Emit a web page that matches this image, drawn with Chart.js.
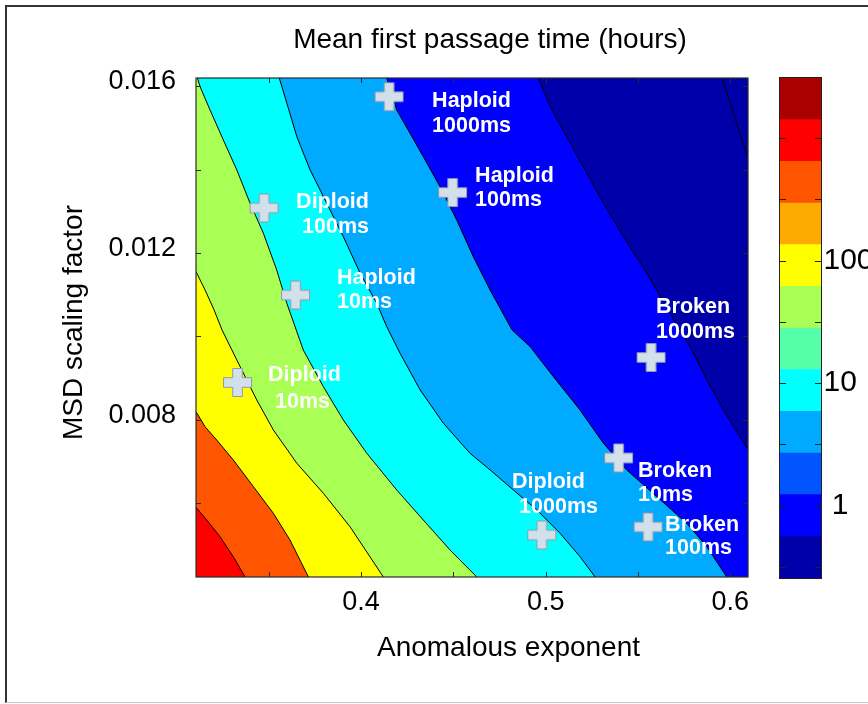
<!DOCTYPE html>
<html>
<head>
<meta charset="UTF-8">
<title>Mean first passage time (hours)</title>
<script src="https://cdn.jsdelivr.net/npm/chart.js@4.4.1/dist/chart.umd.min.js"></script>
<style>
    html, body { margin: 0; padding: 0; width: 868px; height: 704px; overflow: hidden; background: #fff; }
    #frame { position: absolute; left: 5px; top: 5px; width: 900px; height: 695px;
             border-top: 2px solid #333; border-left: 2px solid #333; border-bottom: 1px solid #ccc; }
    #main { position: absolute; left: 0; top: 0; }
    #cbar { position: absolute; left: 760px; top: 0; }
</style>
</head>
<body>
<div id="frame"></div>
<canvas id="main" width="868" height="704"></canvas>
<canvas id="cbar" width="140" height="704"></canvas>

<script>
    // axes: anomalous exponent (x) vs MSD scaling factor (y)
    var xMin = 0.3106, xMax = 0.6096;
    var yMin = 0.00422, yMax = 0.0162;
    var xTicks = [0.35, 0.4, 0.45, 0.5, 0.55, 0.6];
    var xTickLabels = ['', '0.4', '', '0.5', '', '0.6'];
    var yTicks = [0.006, 0.008, 0.010, 0.012, 0.014, 0.016];
    var yTickLabels = ['', '0.008', '', '0.012', '', '0.016'];

    // contour lines of the passage time, slowest (bottom left) first
    var contour1 = [[0.3106, 0.005894], [0.3164, 0.005589], [0.3236, 0.005188], [0.3308, 0.004708], [0.3372, 0.00422]];
    var contour2 = [[0.3106, 0.00819], [0.3155, 0.007829], [0.3218, 0.00751], [0.3308, 0.00703], [0.3417, 0.006389],
                    [0.3525, 0.00575], [0.3615, 0.005109], [0.3715, 0.00422]];
    var contour3 = [[0.3106, 0.011551], [0.3155, 0.011112], [0.3204, 0.010631], [0.3247, 0.010151], [0.3327, 0.009431],
                    [0.3435, 0.008471], [0.3525, 0.00775], [0.3652, 0.006951], [0.3796, 0.00623], [0.394, 0.005428],
                    [0.4121, 0.00422]];
    var contour4 = [[0.3114, 0.0162], [0.3128, 0.015993], [0.3182, 0.015433], [0.3254, 0.014713], [0.3327, 0.013993],
                    [0.3399, 0.013193], [0.3471, 0.012473], [0.3543, 0.011592], [0.3598, 0.010792], [0.3687, 0.009671],
                    [0.3796, 0.00879], [0.3904, 0.00799], [0.4031, 0.007191], [0.4193, 0.00631], [0.4337, 0.005589],
                    [0.4482, 0.004869], [0.4627, 0.00422]];
    var contour5 = [[0.3557, 0.0162], [0.3598, 0.015594], [0.3652, 0.014792], [0.3724, 0.013993], [0.3814, 0.013193],
                    [0.3904, 0.012391], [0.3995, 0.011513], [0.4085, 0.010792], [0.4139, 0.01023], [0.4211, 0.009592],
                    [0.432, 0.008711], [0.4446, 0.007911], [0.459, 0.007191], [0.4699, 0.00679], [0.4825, 0.00631],
                    [0.4952, 0.005829], [0.5078, 0.00527], [0.5186, 0.004708], [0.5268, 0.00422]];
    var contour6 = [[0.4139, 0.0162], [0.4193, 0.015433], [0.4265, 0.014874], [0.4337, 0.014312], [0.4428, 0.013592],
                    [0.4518, 0.012792], [0.4608, 0.011911], [0.4699, 0.011112], [0.4818, 0.010151], [0.4916, 0.00975],
                    [0.5042, 0.00903], [0.5186, 0.00823], [0.5313, 0.007431], [0.5439, 0.00679], [0.5602, 0.006149],
                    [0.5764, 0.00551], [0.5873, 0.004948], [0.5981, 0.00422]];
    var contour7 = [[0.496, 0.0162], [0.5024, 0.015513], [0.5114, 0.014792], [0.5204, 0.014072], [0.5313, 0.013193],
                    [0.5421, 0.012391], [0.5548, 0.011513], [0.5674, 0.010552], [0.5782, 0.00975], [0.5873, 0.008951],
                    [0.5963, 0.00823], [0.6096, 0.00727]];
    var contour8 = [[0.5954, 0.0162], [0.6017, 0.015354], [0.6096, 0.014274]];
    var contours = [contour1, contour2, contour3, contour4, contour5, contour6, contour7, contour8];
    // colour below/left of each contour, and above the last one
    var contourColors = ['#ff0000', '#ff5500', '#ffff00', '#aaff55', '#00ffff', '#00aaff', '#0000ff', '#0000aa'];
    var topColor = '#0000aa';

    // simulated cases
    var caseNames = [['Haploid', '1000ms'], ['Haploid', '100ms'], ['Diploid', '100ms'], ['Haploid', '10ms'],
                     ['Diploid', '10ms'], ['Broken', '1000ms'], ['Broken', '10ms'], ['Diploid', '1000ms'],
                     ['Broken', '100ms']];
    var caseX = [0.4152, 0.4496, 0.3475, 0.3645, 0.3331, 0.5571, 0.5395, 0.4979, 0.5555];
    var caseY = [0.01575, 0.01345, 0.01308, 0.01099, 0.008891, 0.009491, 0.007078, 0.005229, 0.005421];
    // where each text line sits relative to its marker (left x, middle y, px)
    var caseTextOffsets = [[[43, 4], [43, 29]], [[22.5, -16.5], [22.5, 7.5]], [[32, -6], [38, 19]],
                           [[41.5, -17], [41.5, 7]], [[30.5, -7.5], [37.5, 19.5]], [[5, -50.5], [5, -25.5]],
                           [[19.5, 13], [19.5, 37]], [[-29.7, -53], [-22.7, -28]], [[17, -2], [17, 21]]];

    // colour bar (hours, log scale), bottom to top
    var cbarEdges = [0.257, 0.562, 1.23, 2.69, 5.89, 12.9, 28.2, 61.7, 135, 295, 646, 1413, 3090];
    var cbarColors = ['#0000aa', '#0000ff', '#0055ff', '#00aaff', '#00ffff', '#55ffaa',
                      '#aaff55', '#ffff00', '#ffaa00', '#ff5500', '#ff0000', '#aa0000'];
    var cbarTicks = [0.316, 1, 3.16, 10, 31.6, 100, 316, 1000];
    var cbarTickLabels = ['', ' 1', '', '10', '', '100', '', ''];

    var FONT = "'Liberation Sans', Arial, Helvetica, sans-serif";
    Chart.defaults.font.family = FONT;
    Chart.defaults.color = '#000';

    // light plus sign used as marker
    function plusSprite() {
        var c = document.createElement('canvas');
        c.width = 31; c.height = 31;
        var g = c.getContext('2d');
        var m = 15.5, h = 14, a = 4.8;
        g.beginPath();
        g.moveTo(m - a, m - h); g.lineTo(m + a, m - h); g.lineTo(m + a, m - a); g.lineTo(m + h, m - a);
        g.lineTo(m + h, m + a); g.lineTo(m + a, m + a); g.lineTo(m + a, m + h); g.lineTo(m - a, m + h);
        g.lineTo(m - a, m + a); g.lineTo(m - h, m + a); g.lineTo(m - h, m - a); g.lineTo(m - a, m - a);
        g.closePath();
        g.fillStyle = '#d2e0ec';
        g.fill();
        g.strokeStyle = '#8e9aa5';
        g.lineWidth = 1;
        g.stroke();
        return c;
    }

    function toPoints(arr) {
        return arr.map(function (p) { return { x: p[0], y: p[1] }; });
    }

    // region on the lower-left side of a contour, closed through the plot corners
    function regionOf(c) {
        var pts = toPoints(c);
        var first = c[0], last = c[c.length - 1];
        if (last[1] > yMin + 1e-7) pts.push({ x: xMax, y: yMin });
        pts.push({ x: xMin, y: yMin });
        if (first[0] > xMin + 1e-7) pts.push({ x: xMin, y: yMax });
        return pts;
    }

    var datasets = [];
    datasets.push({
        data: [{ x: xMin, y: yMin }, { x: xMax, y: yMin }, { x: xMax, y: yMax }, { x: xMin, y: yMax }],
        fill: 'shape', backgroundColor: topColor, borderColor: 'rgba(0,0,0,0)', borderWidth: 0,
        pointRadius: 0, tension: 0, order: 30
    });
    contours.forEach(function (c, k) {
        datasets.push({
            data: regionOf(c), fill: 'shape', backgroundColor: contourColors[k],
            borderColor: 'rgba(0,0,0,0)', borderWidth: 0, pointRadius: 0, tension: 0, order: 12 + k
        });
    });
    contours.forEach(function (c) {
        datasets.push({
            data: toPoints(c), fill: false, borderColor: '#000', borderWidth: 1,
            pointRadius: 0, tension: 0, order: 5
        });
    });
    var plus = plusSprite();
    datasets.push({
        data: caseX.map(function (x, i) { return { x: x, y: caseY[i] }; }),
        showLine: false, pointStyle: plus, pointRadius: 12, order: 0
    });

    var axesPlugin = {
        id: 'axesBox',
        afterDatasetsDraw: function (chart) {
            var ctx = chart.ctx, a = chart.chartArea;
            var sx = chart.scales.x, sy = chart.scales.y;
            ctx.save();
            ctx.strokeStyle = '#2b2b2b';
            ctx.lineWidth = 1;
            ctx.beginPath();
            xTicks.forEach(function (v) {
                var px = Math.round(sx.getPixelForValue(v)) + 0.5;
                ctx.moveTo(px, a.bottom); ctx.lineTo(px, a.bottom - 5);
                ctx.moveTo(px, a.top); ctx.lineTo(px, a.top + 5);
            });
            yTicks.forEach(function (v) {
                var py = Math.round(sy.getPixelForValue(v)) + 0.5;
                ctx.moveTo(a.left, py); ctx.lineTo(a.left + 5, py);
                ctx.moveTo(a.right, py); ctx.lineTo(a.right - 5, py);
            });
            ctx.stroke();
            ctx.lineWidth = 1.2;
            ctx.strokeRect(a.left, a.top, a.right - a.left, a.bottom - a.top);

            // case names
            ctx.fillStyle = '#fff';
            ctx.font = 'bold 21.5px ' + FONT;
            ctx.textAlign = 'left';
            ctx.textBaseline = 'middle';
            caseNames.forEach(function (lines, i) {
                var px = sx.getPixelForValue(caseX[i]);
                var py = sy.getPixelForValue(caseY[i]);
                lines.forEach(function (t, j) {
                    var off = caseTextOffsets[i][j];
                    ctx.fillText(t, px + off[0], py + off[1]);
                });
            });
            ctx.restore();
        },
        afterDraw: function (chart) {
            var ctx = chart.ctx;
            ctx.save();
            ctx.fillStyle = '#000';
            ctx.textBaseline = 'alphabetic';
            ctx.textAlign = 'center';
            ctx.font = '28px ' + FONT;
            ctx.fillText('Mean first passage time (hours)', 490, 48);
            ctx.fillText('Anomalous exponent', 508.5, 656);
            ctx.translate(82, 322.5);
            ctx.rotate(-Math.PI / 2);
            ctx.fillText('MSD scaling factor', 0, 0);
            ctx.restore();
        }
    };

    new Chart(document.getElementById('main'), {
        type: 'line',
        data: { datasets: datasets },
        options: {
            responsive: false,
            animation: false,
            events: [],
            devicePixelRatio: 1,
            layout: { padding: { left: 0, right: 120, top: 78, bottom: 0 } },
            plugins: { legend: { display: false }, tooltip: { enabled: false } },
            scales: {
                x: {
                    type: 'linear', min: xMin, max: xMax,
                    afterBuildTicks: function (s) { s.ticks = xTicks.map(function (v) { return { value: v }; }); },
                    afterFit: function (s) { s.height = 127; },
                    grid: { display: false, drawTicks: false },
                    border: { display: false },
                    ticks: {
                        padding: 9, autoSkip: false, maxRotation: 0, color: '#000',
                        font: { size: 27 },
                        callback: function (v, i) { return xTickLabels[i]; }
                    }
                },
                y: {
                    type: 'linear', min: yMin, max: yMax,
                    afterBuildTicks: function (s) { s.ticks = yTicks.map(function (v) { return { value: v }; }); },
                    afterFit: function (s) { s.width = 196; },
                    grid: { display: false, drawTicks: false },
                    border: { display: false },
                    ticks: {
                        padding: 20, autoSkip: false, color: '#000', labelOffset: -4.5,
                        font: { size: 27 },
                        callback: function (v, i) { return yTickLabels[i]; }
                    }
                }
            }
        },
        plugins: [axesPlugin]
    });

    var cbarPlugin = {
        id: 'cbarBox',
        afterDatasetsDraw: function (chart) {
            var ctx = chart.ctx, a = chart.chartArea, sy = chart.scales.y;
            ctx.save();
            ctx.strokeStyle = '#222';
            ctx.lineWidth = 1;
            ctx.beginPath();
            cbarTicks.forEach(function (v) {
                var py = Math.round(sy.getPixelForValue(v)) + 0.5;
                ctx.moveTo(a.left, py); ctx.lineTo(a.left + 6, py);
                ctx.moveTo(a.right, py); ctx.lineTo(a.right - 6, py);
            });
            ctx.stroke();
            ctx.strokeRect(a.left - 0.5, a.top - 0.5, a.right - a.left + 1, a.bottom - a.top + 1);
            ctx.restore();
        }
    };

    new Chart(document.getElementById('cbar'), {
        type: 'bar',
        data: {
            labels: [''],
            datasets: cbarColors.map(function (c, i) {
                return {
                    data: [[cbarEdges[i], cbarEdges[i + 1]]], backgroundColor: c, borderWidth: 0,
                    grouped: false, barPercentage: 1, categoryPercentage: 1
                };
            })
        },
        options: {
            responsive: false,
            animation: false,
            events: [],
            devicePixelRatio: 1,
            layout: { padding: { left: 20, right: 0, top: 78, bottom: 126 } },
            plugins: { legend: { display: false }, tooltip: { enabled: false } },
            scales: {
                x: { display: false },
                y: {
                    type: 'logarithmic', position: 'right',
                    min: cbarEdges[0], max: cbarEdges[cbarEdges.length - 1],
                    afterBuildTicks: function (s) { s.ticks = cbarTicks.map(function (v) { return { value: v }; }); },
                    afterFit: function (s) { s.width = 79; },
                    grid: { display: false, drawTicks: false },
                    border: { display: false },
                    ticks: {
                        padding: 2.5, crossAlign: 'near', autoSkip: false, color: '#000',
                        font: { size: 30 },
                        callback: function (v, i) { return cbarTickLabels[i]; }
                    }
                }
            }
        },
        plugins: [cbarPlugin]
    });
</script>
</body>
</html>
